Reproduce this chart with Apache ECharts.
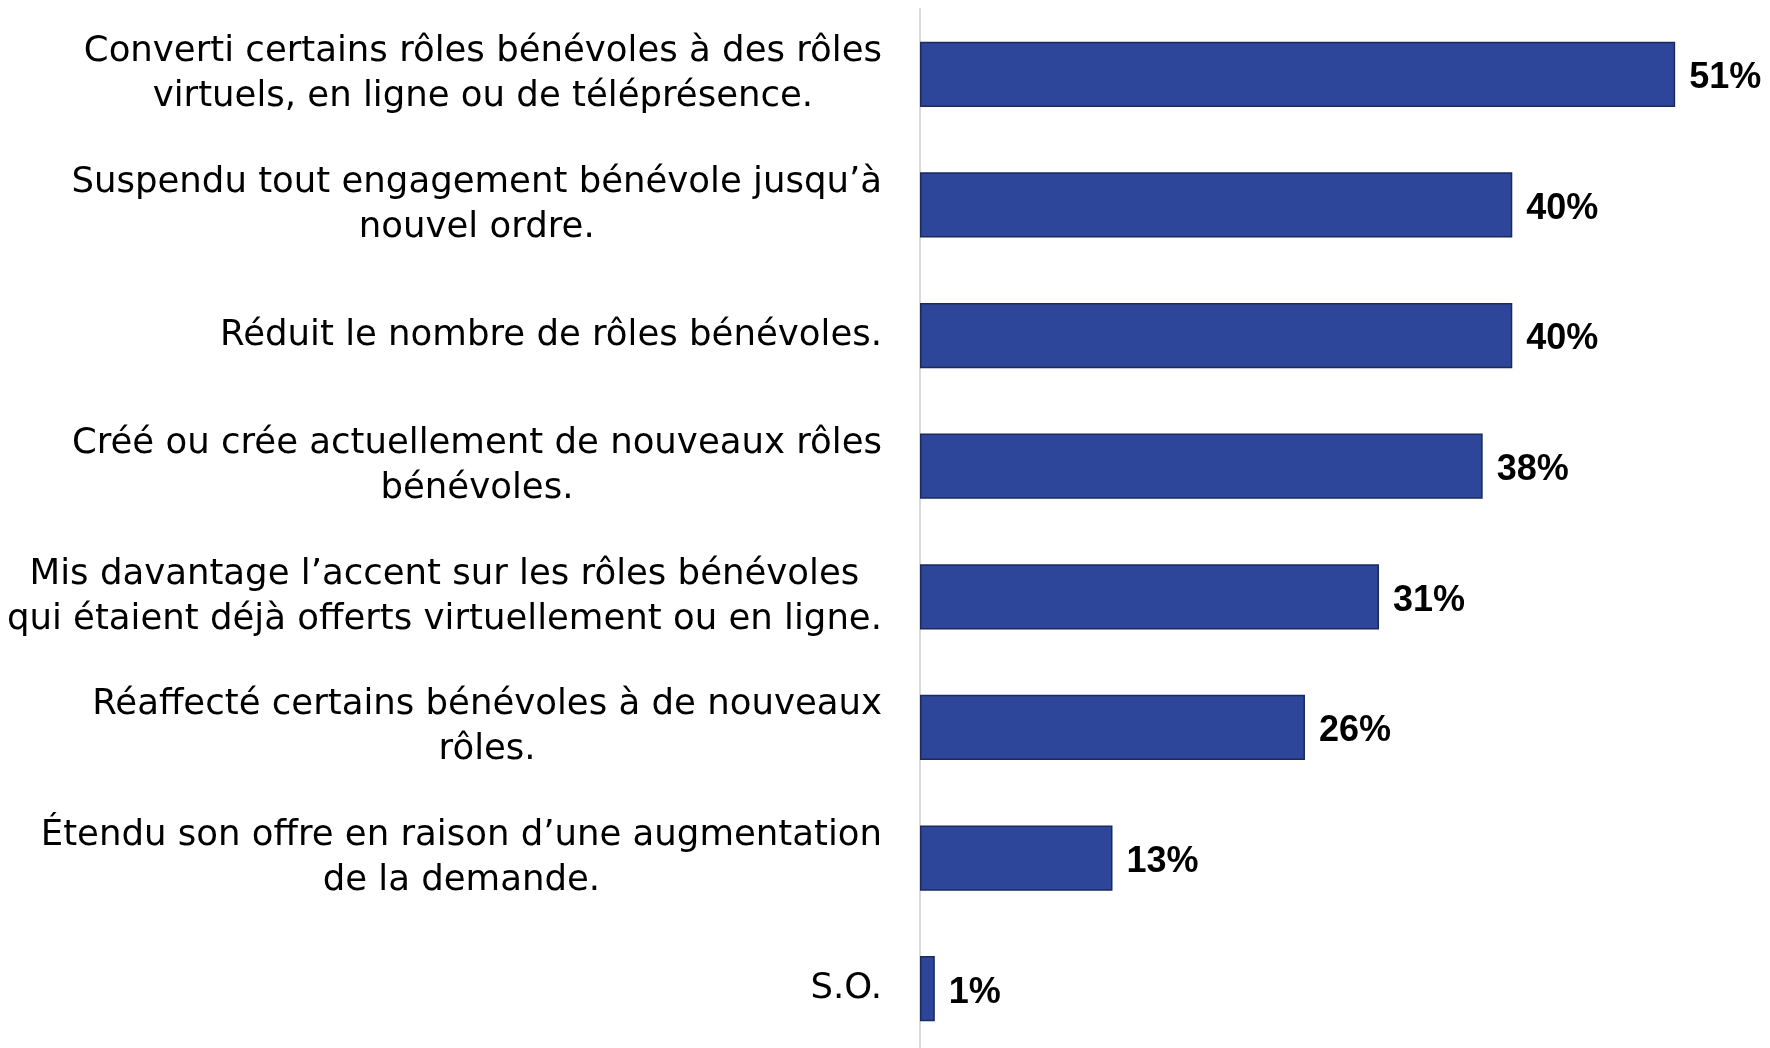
<!DOCTYPE html>
<html>
<head>
<meta charset="utf-8">
<script src="https://cdn.jsdelivr.net/npm/echarts@6/dist/echarts.min.js"></script>
<style>
  html, body { margin: 0; padding: 0; background: #fff; }
  #chart { width: 1770px; height: 1048px; }
</style>
</head>
<body>
<div id="chart"></div>
<script>
// catégories (de haut en bas), une ligne par élément du tableau interne
const categories = [
  ['Converti certains rôles bénévoles à des rôles', 'virtuels, en ligne ou de téléprésence.'],
  ['Suspendu tout engagement bénévole jusqu\u2019à', 'nouvel ordre.'],
  ['Réduit le nombre de rôles bénévoles.'],
  ['Créé ou crée actuellement de nouveaux rôles', 'bénévoles.'],
  ['Mis davantage l\u2019accent sur les rôles bénévoles', 'qui étaient déjà offerts virtuellement ou en ligne.'],
  ['Réaffecté certains bénévoles à de nouveaux', 'rôles.'],
  ['Étendu son offre en raison d\u2019une augmentation', 'de la demande.'],
  ['S.O.']
];
// pourcentages
const values = [51, 40, 40, 38, 31, 26, 13, 1];

const myChart = echarts.init(document.getElementById('chart'));

const option = {
  animation: false,
  grid: {
    left: 920,
    top: 9,
    width: 844,
    height: 1045,
    outerBoundsMode: 'none'
  },
  xAxis: {
    type: 'value',
    min: 0,
    max: 57,
    show: false
  },
  yAxis: {
    type: 'category',
    inverse: true,
    data: categories.map(c => c.join('\n')),
    axisLine: { show: true, lineStyle: { color: '#d9d9d9', width: 2 } },
    axisTick: { show: false },
    axisLabel: {
      margin: 38,
      // chaque ligne centrée dans le bloc, bloc aligné à droite
      formatter: (v) => v.split('\n').map(l => '{c|' + l + '}').join('\n'),
      rich: {
        c: {
          align: 'center',
          fontFamily: 'DejaVu Sans',
          fontSize: 35.5,
          lineHeight: 45,
          color: '#000'
        }
      }
    }
  },
  series: [{
    type: 'bar',
    data: values,
    barWidth: '50%',
    itemStyle: {
      color: '#2E4699',
      borderColor: '#1A2A5C',
      borderWidth: 1.5
    },
    label: {
      show: true,
      position: 'right',
      distance: 14,
      offset: [0, 4],
      formatter: '{c}%',
      fontFamily: 'Liberation Sans',
      fontWeight: 'bold',
      fontSize: 36,
      color: '#000'
    }
  }]
};

myChart.setOption(option);
</script>
</body>
</html>
